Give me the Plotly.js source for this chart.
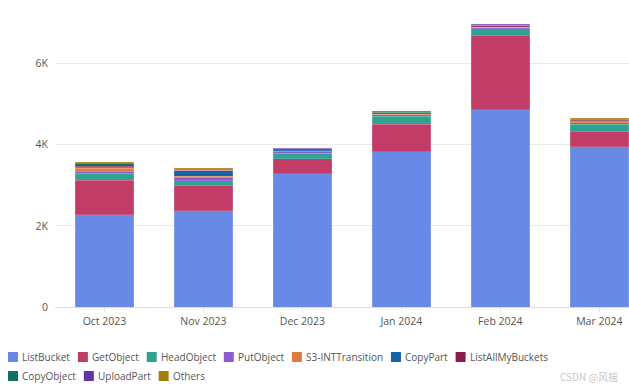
<!DOCTYPE html>
<html>
<head>
<meta charset="utf-8">
<script src="https://cdn.plot.ly/plotly-3.0.1.min.js"></script>
<style>html,body{margin:0;padding:0;background:#fff;}#chart{width:629px;height:387px;}</style>
</head>
<body>
<div id="chart"></div>
<script>
const months = ["Oct 2023", "Nov 2023", "Dec 2023", "Jan 2024", "Feb 2024", "Mar 2024"];
const listBucket       = [2270, 2370, 3284, 3835, 4864, 3951];
const getObject        = [860, 625, 370, 676, 1827, 377];
const headObject       = [170, 123, 140, 188, 173, 182];
const putObject        = [50, 80, 50, 40, 30, 40];
const s3IntTransition  = [70, 30, 15, 15, 10, 15];
const copyPart         = [25, 130, 20, 10, 10, 15];
const listAllMyBuckets = [25, 10, 20, 30, 30, 25];
const copyObject       = [80, 10, 10, 15, 10, 15];
const uploadPart       = [10, 7, 10, 15, 14, 15];
const others           = [20, 40, 14, 16, 20, 24];
const yTickVals = [0, 2000, 4000, 6000];
const yTickText = ["0", "2K", "4K", "6K"];

const seriesNames = ["ListBucket","GetObject","HeadObject","PutObject","S3-INTTransition","CopyPart","ListAllMyBuckets","CopyObject","UploadPart","Others"];
const seriesData = [listBucket,getObject,headObject,putObject,s3IntTransition,copyPart,listAllMyBuckets,copyObject,uploadPart,others];
const colors = ["#6889e5","#c23c68","#2ea392","#8a5ad2","#e07a3e","#1263a8","#8e1a4a","#127062","#6535a8","#a27e10"];

const traces = seriesNames.map((n,i)=>({
  type:"bar", name:n, x:months, y:seriesData[i],
  marker:{color:colors[i], line:{color:"rgba(255,255,255,0.3)", width:0.5}},
  hoverinfo:"skip", showlegend:false
}));

// layout geometry (pixels)
const W = 629, H = 387, ML = 55, MR = 0, MT = 11, MB = 80;
const PW = W - ML - MR, PH = H - MT - MB;
const px = x => (x - ML) / PW;
const py = y => (H - MB - y) / PH;

// custom legend: two rows, items flowed by measured text width
const LFONT = "Open Sans", LSIZE = 10;
const ctx = document.createElement("canvas").getContext("2d");
ctx.font = LSIZE + "px '" + LFONT + "'";
const rowBreak = 7, rowY = [357, 376], startX = 8, swatch = 10, textGap = 3, itemGap = 9;
const shapes = [], annotations = [];
let cx = startX;
seriesNames.forEach((n,i)=>{
  if (i === rowBreak) cx = startX;
  const ly = rowY[i < rowBreak ? 0 : 1];
  shapes.push({type:"rect", xref:"paper", yref:"paper", x0:px(cx), x1:px(cx+swatch), y0:py(ly+5), y1:py(ly-5),
    fillcolor:colors[i], line:{width:0}, layer:"above"});
  annotations.push({xref:"paper", yref:"paper", x:px(cx+swatch+textGap), y:py(ly), xanchor:"left", yanchor:"middle",
    text:n, showarrow:false, borderpad:0, font:{family:LFONT, size:LSIZE, color:"#555"}});
  cx += swatch + textGap + ctx.measureText(n).width + itemGap;
});
annotations.push({xref:"paper", yref:"paper", x:px(620), y:py(376), xanchor:"right", yanchor:"middle",
  text:"CSDN @风摇", showarrow:false, font:{family:"Noto Sans CJK SC", size:10, color:"#c8c8c8"}});

const layout = {
  width:W, height:H,
  margin:{l:ML, r:MR, t:MT, b:MB, autoexpand:false},
  barmode:"stack", bargap:0.41,
  paper_bgcolor:"#fff", plot_bgcolor:"#fff",
  font:{family:"Open Sans, sans-serif", size:11, color:"#555"},
  xaxis:{range:[-0.5,5.3], showgrid:false, ticks:"outside", ticklen:4, tickcolor:"#e6e6e6",
         showline:true, linecolor:"#dedede", tickfont:{size:10.5,color:"#555"}, automargin:false},
  yaxis:{range:[0,7300], tickvals:yTickVals, ticktext:yTickText, gridcolor:"#ebebeb",
         zeroline:false, tickfont:{size:10.5,color:"#555"}, ticks:"", ticklabelstandoff:6, automargin:false},
  showlegend:false,
  shapes:shapes,
  annotations:annotations
};
Plotly.newPlot("chart", traces, layout, {staticPlot:true, displayModeBar:false});
</script>
</body>
</html>
